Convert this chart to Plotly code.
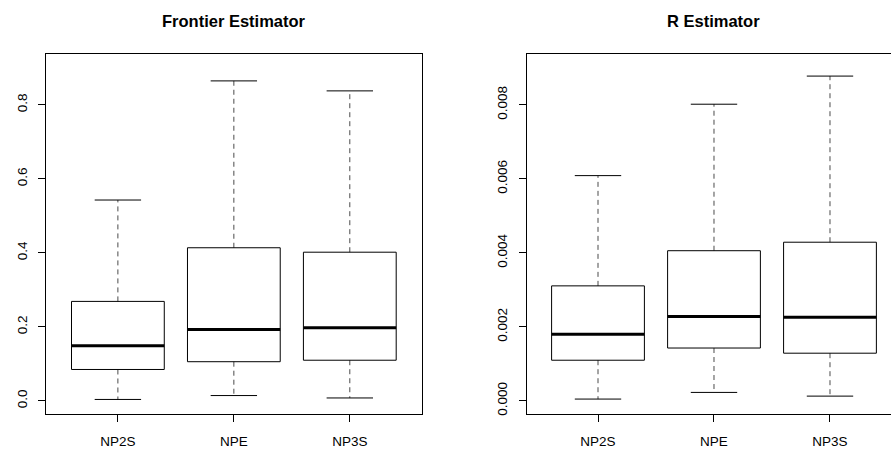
import plotly.graph_objects as go

categories = ["NP2S", "NPE", "NP3S"]

# Frontier Estimator
fr_lower = [0.004, 0.0145, 0.008]
fr_q1 = [0.085, 0.106, 0.110]
fr_med = [0.149, 0.193, 0.198]
fr_q3 = [0.269, 0.414, 0.402]
fr_upper = [0.543, 0.865, 0.838]

# R Estimator
r_lower = [0.00005, 0.00023, 0.00013]
r_q1 = [0.00110, 0.00143, 0.00129]
r_med = [0.00180, 0.00228, 0.00226]
r_q3 = [0.00311, 0.00406, 0.00429]
r_upper = [0.00609, 0.00802, 0.00878]

fr_ticks = [0.0, 0.2, 0.4, 0.6, 0.8]
fr_ticktext = ["0.0", "0.2", "0.4", "0.6", "0.8"]
r_ticks = [0.0, 0.002, 0.004, 0.006, 0.008]
r_ticktext = ["0.000", "0.002", "0.004", "0.006", "0.008"]

FONT = "Liberation Sans, Arial, Helvetica, sans-serif"
BOXW = 0.4
CAPW = 0.2

fig = go.Figure()


def add_boxes(lower, q1, med, q3, upper, xa, ya):
    for i in range(len(categories)):
        x = i + 1
        # whiskers (dashed)
        fig.add_trace(go.Scatter(
            x=[x, x, None, x, x], y=[q3[i], upper[i], None, q1[i], lower[i]],
            mode="lines", line=dict(color="#4a4a4a", width=1, dash="5px,4px"),
            xaxis=xa, yaxis=ya, showlegend=False, hoverinfo="skip"))
        # caps
        fig.add_trace(go.Scatter(
            x=[x - CAPW, x + CAPW, None, x - CAPW, x + CAPW],
            y=[upper[i], upper[i], None, lower[i], lower[i]],
            mode="lines", line=dict(color="black", width=1),
            xaxis=xa, yaxis=ya, showlegend=False, hoverinfo="skip"))
        # box
        fig.add_trace(go.Scatter(
            x=[x - BOXW, x + BOXW, x + BOXW, x - BOXW, x - BOXW],
            y=[q1[i], q1[i], q3[i], q3[i], q1[i]],
            mode="lines", line=dict(color="black", width=1),
            xaxis=xa, yaxis=ya, showlegend=False, hoverinfo="skip"))
        # median
        fig.add_trace(go.Scatter(
            x=[x - BOXW, x + BOXW], y=[med[i], med[i]],
            mode="lines", line=dict(color="black", width=3),
            xaxis=xa, yaxis=ya, showlegend=False, hoverinfo="skip"))


add_boxes(fr_lower, fr_q1, fr_med, fr_q3, fr_upper, "x", "y")
add_boxes(r_lower, r_q1, r_med, r_q3, r_upper, "x2", "y2")

W, H = 891, 455
ydom = [1 - 415.7 / H, 1 - 54.5 / H]

common_x = dict(
    tickvals=[1, 2, 3], ticktext=categories, ticks="outside", ticklen=7,
    tickcolor="black", showline=True, linecolor="black", linewidth=1,
    showgrid=False, zeroline=False, tickfont=dict(family=FONT, size=13.5, color="black"),
    ticklabelstandoff=8,
)
common_y = dict(
    ticks="outside", ticklen=7, tickcolor="black", showline=True,
    linecolor="black", linewidth=1, showgrid=False, zeroline=False,
    tickangle=-90, tickfont=dict(family=FONT, size=13.5, color="black"),
    ticklabelstandoff=6,
)

fig.update_layout(
    width=W, height=H,
    margin=dict(l=0, r=0, t=0, b=0),
    paper_bgcolor="white", plot_bgcolor="white",
    hovermode=False,
    xaxis=dict(domain=[46 / W, 421.7 / W], range=[0.38, 3.62], mirror=True, anchor="y", **common_x),
    yaxis=dict(domain=ydom, range=[-0.035, 0.937], tickvals=fr_ticks, ticktext=fr_ticktext,
               mirror=True, anchor="x", **common_y),
    xaxis2=dict(domain=[526.5 / W, 1.0], range=[0.3836, 3.526], mirror=True, anchor="y2", **common_x),
    yaxis2=dict(domain=ydom, range=[-0.00035, 0.00937], tickvals=r_ticks, ticktext=r_ticktext,
                mirror=False, anchor="x2", **common_y),
    annotations=[
        dict(text="<b>Frontier Estimator</b>", x=(46 + 421.7) / 2 / W, y=1 - 21 / H,
             xref="paper", yref="paper", xanchor="center", yanchor="middle", showarrow=False,
             font=dict(family=FONT, size=16.5, color="black")),
        dict(text="<b>R Estimator</b>", x=713 / W, y=1 - 21 / H,
             xref="paper", yref="paper", xanchor="center", yanchor="middle", showarrow=False,
             font=dict(family=FONT, size=16.5, color="black")),
    ],
)

fig.write_html(
    "out.html",
    config={"displayModeBar": False, "staticPlot": True},
    post_script="document.body.style.margin='0';document.body.style.overflow='hidden';",
)
